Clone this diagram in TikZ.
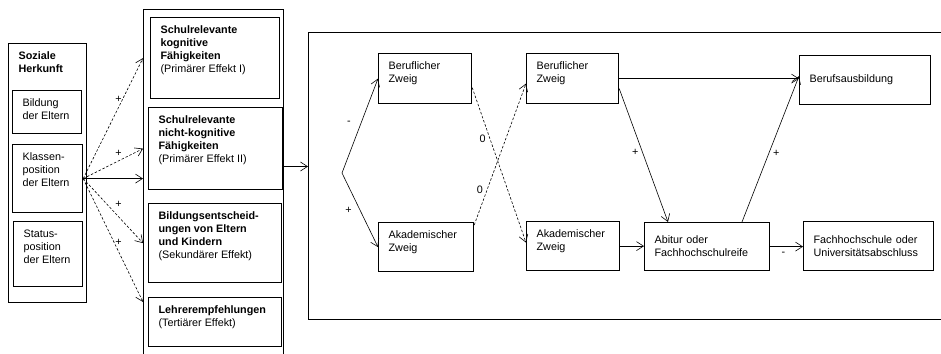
\documentclass[tikz,border=0pt]{standalone}
\usepackage{fontspec}
\setmainfont{Liberation Sans}
\usetikzlibrary{arrows.meta}

\tikzstyle{edge} = [line width=0.6pt, -{Straight Barb[length=7pt,width=9pt]}]
\tikzstyle{dashededge} = [edge, dash pattern=on 2.5pt off 1.8pt]
\tikzstyle{frame} = [draw, line width=1pt, anchor=north west, inner sep=0pt]
\tikzstyle{cbox} = [draw, line width=1.2pt, anchor=north west, align=left, inner xsep=10pt]
\tikzstyle{sign} = [inner sep=1pt]
\tikzset{
  box/.style 2 args={draw, line width=1.2pt, anchor=north west, inner xsep=10pt, inner ysep=8.5pt,
    execute at begin node={\begin{minipage}[c][#2pt][t]{#1pt}\raggedright},
    execute at end node={\end{minipage}}}
}

\begin{document}
\begin{tikzpicture}[x=1pt, y=-1pt, font=\fontsize{10.8}{13}\selectfont]
\useasboundingbox (0,0) rectangle (941,353);

% soziale Herkunft
\node (sh) [box={58}{242}] at (8,43) {\textbf{Soziale\\Herkunft}};
\node (bi) [box={49}{26}] at (12,90) {Bildung\\der Eltern};
\node (kp) [box={50}{51}] at (12,144) {Klassen-\\position\\der Eltern};
\node (st) [box={49}{48}] at (13,221) {Status-\\position\\der Eltern};

% Effekte
\node (mid) [frame, minimum width=140pt, minimum height=365pt] at (143,9) {};
\node (sk) [box={109}{64}] at (150,17) {\textbf{Schulrelevante\\kognitive\\Fähigkeiten}\\(Primärer Effekt I)};
\node (nk) [box={114}{65}] at (148,107) {\textbf{Schulrelevante\\nicht-kognitive\\Fähigkeiten}\\(Primärer Effekt II)};
\node (be) [box={113}{62}] at (148,203) {\textbf{Bildungsentscheid-\\ungen von Eltern\\und Kindern}\\(Sekundärer Effekt)};
\node (le) [box={113}{32}] at (148,297) {\textbf{Lehrerempfehlungen}\\(Tertiärer Effekt)};
\coordinate (lein) at ([yshift=-5pt]le.north west);

\draw [dashededge] (kp.east) -- node[sign, pos=.59, above=4pt]{+} (mid.west |- sk.west);
\draw [dashededge] (kp.east) -- node[sign, pos=.59, above=3pt]{+} (mid.west |- nk.west);
\draw [edge] (kp.east) -- (mid.west |- kp.east);
\draw [dashededge] (kp.east) -- node[sign, pos=.59, above=8pt]{+} (mid.west |- be.west);
\draw [dashededge] (kp.east) -- node[sign, pos=.59, above=5pt]{+} (mid.west |- lein);

% Bildungswege
\node (main) [frame, minimum width=650pt, minimum height=287pt] at (308,32) {};
\coordinate (in) at ([yshift=9.5pt]main.west);
\draw [edge] (mid.east |- in) -- (in);

\node (bz1) [box={73}{33}] at (378,53) {Beruflicher\\Zweig};
\node (az1) [box={75}{32}] at (378,222) {Akademischer\\Zweig};
\node (bz2) [box={72}{33}] at (526,53) {Beruflicher\\Zweig};
\node (az2) [box={73}{32}] at (526,221) {Akademischer\\Zweig};
\node (ab) [cbox, text width=105pt, minimum height=48pt] at (644,222) {Abitur oder\\Fachhochschulreife};
\node (fh) [cbox, text width=110pt, minimum height=49pt] at (803,221) {Fachhochschule oder\\Universitätsabschluss};
\node (bb) [cbox, text width=111pt, minimum height=49pt] at (799,55) {Berufsausbildung};

\coordinate (fork) at (342,173);
\draw [edge] (fork) -- node[sign, pos=.53, left=9pt]{-} (bz1.west);
\draw [edge] (fork) -- node[sign, pos=.5, left=7pt]{+} (az1.west);
\draw [dashededge] ([yshift=-9pt]bz1.east) -- node[sign, pos=.33, left=3pt]{0} ([yshift=3.5pt]az2.west);
\draw [dashededge] ([yshift=-3pt]az1.north east) -- node[sign, pos=.25, left=3pt]{0} ([yshift=-5pt]bz2.west);

\draw [edge] (bz2.east) -- (bb.west |- bz2.east);
\draw [edge] ([yshift=-10pt]bz2.east) -- node[sign, pos=.48, left=3pt]{+} ([xshift=24pt]ab.north west);
\draw [edge] ([xshift=98pt]ab.north west) -- node[sign, pos=.47, right=3pt]{+} ([yshift=4pt]bb.west);
\draw [edge] (az2.east) -- (ab.west |- az2.east);
\draw [edge] (ab.east) -- node[sign, pos=.4, below=4pt]{-} (fh.west |- ab.east);

\end{tikzpicture}
\end{document}
